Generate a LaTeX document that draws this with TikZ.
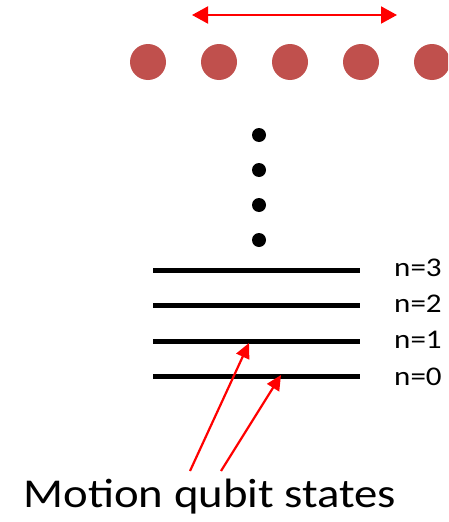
\documentclass[tikz,border=0pt]{standalone}
\usepackage{fontspec}
\setmainfont{Carlito}
\usetikzlibrary{arrows.meta}
\definecolor{ionred}{HTML}{C0504D}
\begin{document}
\begin{tikzpicture}[x=1pt,y=-1pt,
  ion/.style={circle,fill=ionred,minimum size=36pt,inner sep=0pt},
  vdot/.style={circle,fill=black,minimum size=14pt,inner sep=0pt},
  level/.style={line width=5pt},
  lvllabel/.style={font=\fontsize{27}{30}\selectfont,xscale=1.15,anchor=base west,inner sep=0pt},
  redarrow/.style={red,line width=2.2pt,-{Triangle[length=15pt,width=14pt]}},
  motion/.style={red,line width=2pt,{Triangle[length=16pt,width=17pt]}-{Triangle[length=16pt,width=17pt]}}]
\clip (0,0) rectangle (448,522);
\useasboundingbox (0,0) rectangle (448,522);
% ions
\foreach \i/\x in {1/148,2/219,3/290,4/361,5/432}{
  \node[ion] (ion\i) at (\x,62) {};
}
% motion arrow
\coordinate (mL) at (192,15);
\coordinate (mR) at (397,15);
\draw[motion] (mL) -- (mR);
% vertical dots
\foreach \i/\y in {1/135,2/170,3/205,4/240}{
  \node[vdot] (vd\i) at (259,\y) {};
}
% levels
\foreach \n/\y/\b in {3/270/276,2/305/312,1/341/348,0/376/385}{
  \coordinate (l\n a) at (153,\y);
  \coordinate (l\n b) at (360,\y);
  \draw[level] (l\n a) -- (l\n b);
  \node[lvllabel] (lab\n) at (394,\b) {n=\n};
}
% label
\node[font=\fontsize{41}{44}\selectfont,xscale=1.14,anchor=base,inner sep=0pt] (mq) at (210,507) {Motion qubit states};
\coordinate (s1) at (190,471);
\coordinate (s2) at (221,471);
\coordinate (t1) at (249,343);
\coordinate (t2) at (281,375);
\draw[redarrow] (s1) -- (t1);
\draw[redarrow] (s2) -- (t2);
\end{tikzpicture}
\end{document}
